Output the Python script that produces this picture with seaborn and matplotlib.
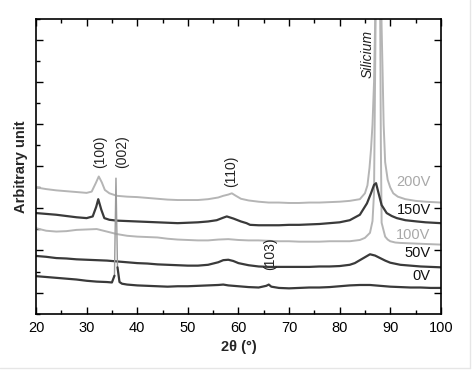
import matplotlib
matplotlib.use("Agg")
import matplotlib.pyplot as plt
from matplotlib.ticker import MultipleLocator
from matplotlib.lines import Line2D
import seaborn as sns
import pandas as pd

# ---- data (2theta in degrees, intensity in arbitrary offset units)
x_0V = [20, 22, 24, 26, 28, 30, 32, 34, 35, 35.5, 35.8, 36.1, 36.5, 37, 38, 40, 42, 44, 46, 48,
        50, 52, 54, 56, 57, 58, 60, 62, 64, 65.5, 66, 66.5, 68, 70, 72, 74, 76, 78, 80, 82, 84,
        86, 88, 90, 92, 94, 96, 98, 100]
y_0V = [1.39, 1.37, 1.35, 1.33, 1.31, 1.28, 1.26, 1.25, 1.24, 1.40, 3.72, 1.60, 1.25, 1.21,
        1.19, 1.17, 1.16, 1.15, 1.14, 1.15, 1.15, 1.16, 1.17, 1.18, 1.19, 1.17, 1.15, 1.13, 1.12,
        1.16, 1.19, 1.14, 1.11, 1.10, 1.11, 1.12, 1.12, 1.13, 1.15, 1.17, 1.18, 1.18, 1.16, 1.14,
        1.13, 1.12, 1.12, 1.11, 1.11]

x_50V = [20, 22, 24, 26, 28, 30, 32, 34, 36, 38, 40, 42, 44, 46, 48, 50, 52, 54, 56, 57, 58, 59,
         60, 62, 64, 66, 68, 70, 72, 74, 76, 78, 80, 82, 83, 84, 85, 86, 87, 88, 89, 90, 92, 94,
         96, 98, 100]
y_50V = [1.87, 1.85, 1.82, 1.81, 1.79, 1.78, 1.77, 1.76, 1.74, 1.72, 1.70, 1.69, 1.67, 1.66,
         1.65, 1.64, 1.64, 1.66, 1.72, 1.77, 1.78, 1.75, 1.70, 1.65, 1.62, 1.61, 1.61, 1.61, 1.61,
         1.61, 1.62, 1.62, 1.63, 1.66, 1.70, 1.77, 1.84, 1.91, 1.88, 1.82, 1.76, 1.71, 1.66, 1.64,
         1.62, 1.61, 1.60]

x_100V = [20, 22, 24, 26, 28, 30, 32, 34, 36, 38, 40, 42, 44, 46, 48, 50, 52, 54, 56, 58, 60,
          62, 64, 66, 68, 70, 72, 74, 76, 78, 80, 82, 84, 85, 86, 86.5, 86.8, 87.0, 87.3, 87.6,
          88.0, 88.15, 88.3, 89, 89.5, 90, 91, 92, 94, 96, 98, 100]
y_100V = [2.53, 2.47, 2.45, 2.46, 2.49, 2.50, 2.51, 2.45, 2.39, 2.35, 2.33, 2.32, 2.31, 2.28,
          2.26, 2.25, 2.24, 2.24, 2.26, 2.27, 2.25, 2.24, 2.24, 2.23, 2.22, 2.22, 2.21, 2.21,
          2.21, 2.22, 2.22, 2.22, 2.25, 2.30, 2.42, 2.70, 3.37, 6.0, 10.0, 12.0, 8.0, 4.5, 2.66,
          2.33, 2.26, 2.22, 2.19, 2.18, 2.17, 2.16, 2.15, 2.14]

x_150V = [20, 22, 24, 26, 28, 30, 31.2, 31.9, 32.3, 32.9, 33.5, 34.5, 36, 38, 40, 42, 44, 46,
          48, 50, 52, 54, 55.7, 57, 57.7, 59, 60.5, 61.6, 62.3, 64, 66, 68, 70, 72, 74, 76, 78,
          80, 82, 84, 85.4, 86.2, 86.8, 87.2, 87.7, 88.3, 89.3, 90.3, 91.3, 93, 95.3, 97, 100]
y_150V = [2.89, 2.87, 2.85, 2.82, 2.79, 2.77, 2.81, 3.04, 3.22, 2.97, 2.77, 2.73, 2.71, 2.70,
          2.69, 2.68, 2.67, 2.66, 2.65, 2.66, 2.67, 2.69, 2.72, 2.78, 2.81, 2.76, 2.69, 2.65,
          2.61, 2.60, 2.60, 2.60, 2.61, 2.61, 2.62, 2.63, 2.65, 2.67, 2.72, 2.85, 3.12, 3.36,
          3.56, 3.60, 3.36, 3.08, 2.89, 2.82, 2.77, 2.72, 2.69, 2.67, 2.65]

x_200V = [20, 22, 24, 26, 28, 30, 31, 31.8, 32.4, 33, 33.6, 34.5, 36, 38, 40, 42, 44, 46, 48,
          50, 52, 54, 56, 57, 58, 58.7, 59.5, 60.5, 62, 64, 66, 68, 70, 72, 74, 76, 78, 80, 82,
          84, 85, 85.5, 85.9, 86.2, 86.5, 86.8, 87.0, 87.3, 87.7, 88.0, 88.3, 88.5, 88.7, 89.0,
          89.5, 90, 90.6, 91.5, 93, 95, 97, 100]
y_200V = [3.50, 3.46, 3.43, 3.41, 3.39, 3.37, 3.40, 3.60, 3.76, 3.62, 3.44, 3.36, 3.30, 3.28,
          3.27, 3.25, 3.23, 3.21, 3.20, 3.20, 3.20, 3.22, 3.26, 3.30, 3.33, 3.36, 3.30, 3.23,
          3.19, 3.16, 3.14, 3.14, 3.13, 3.13, 3.14, 3.14, 3.15, 3.16, 3.18, 3.22, 3.36, 3.55,
          3.96, 4.4, 5.0, 6.0, 7.3, 10.0, 12.0, 10.0, 7.3, 6.2, 5.0, 4.1, 3.68, 3.5, 3.36, 3.28,
          3.22, 3.18, 3.16, 3.14]

series_names = ["0V", "50V", "100V", "150V", "200V"]
series_x = [x_0V, x_50V, x_100V, x_150V, x_200V]
series_y = [y_0V, y_50V, y_100V, y_150V, y_200V]
label_y = [1.39, 1.94, 2.36, 2.97, 3.64]

peak_labels = ["(100)", "(002)", "(110)", "(103)"]
peak_x = [32.6, 37.0, 58.6, 66.2]
peak_y = [3.95, 3.95, 3.52, 1.53]

dark = "#3a3a3a"
light = "#b5b5b5"
colors = {"0V": dark, "50V": dark, "100V": light, "150V": dark, "200V": light}
label_colors = {"0V": "#111111", "50V": "#111111", "100V": "#a8a8a8", "150V": "#111111", "200V": "#a8a8a8"}

frames = []
for name, xs, ys in zip(series_names, series_x, series_y):
    frames.append(pd.DataFrame({"two_theta": xs, "intensity": ys, "series": name}))
df = pd.concat(frames, ignore_index=True)

sns.set_theme(style="ticks")
plt.rcParams["font.family"] = ["Liberation Sans", "DejaVu Sans"]

fig = plt.figure(figsize=(4.74, 3.76), dpi=100)
ax = fig.add_axes([0.076, 0.166, 0.854, 0.783])

for name in ["200V", "100V", "150V", "50V", "0V"]:
    sub = df[df["series"] == name]
    if name == "0V":
        # the sharp (002) reflection appears as a thin, light trace in the reference
        narrow = (sub["two_theta"] >= 35.5) & (sub["two_theta"] <= 36.1)
        left = sub[sub["two_theta"] <= 35.5]
        right = sub[sub["two_theta"] >= 36.1]
        peak = sub[narrow]
        sns.lineplot(data=peak, x="two_theta", y="intensity", color="#9a9a9a", lw=1.0,
                     estimator=None, sort=False, ax=ax, legend=False)
        for part in (left, right):
            sns.lineplot(data=part, x="two_theta", y="intensity", color=dark, lw=1.6,
                         estimator=None, sort=False, ax=ax, legend=False)
    else:
        sns.lineplot(data=sub, x="two_theta", y="intensity", color=colors[name],
                     lw=1.6 if colors[name] == dark else 1.4, estimator=None, sort=False,
                     ax=ax, legend=False)

ax.set_xlim(20, 100)
ax.set_ylim(0.5, 7.5)
ax.xaxis.set_major_locator(MultipleLocator(10))
ax.xaxis.set_minor_locator(MultipleLocator(5))
ax.yaxis.set_major_locator(MultipleLocator(1))
ax.yaxis.set_minor_locator(MultipleLocator(0.5))
ax.tick_params(which="both", direction="in", top=True, right=True, colors="black",
               labelleft=False, labelsize=10.5, pad=5)
ax.tick_params(which="major", length=5, width=1)
ax.tick_params(which="minor", length=3, width=1)
ax.tick_params(axis="y", which="minor", right=False)
for sp in ax.spines.values():
    sp.set_linewidth(1.2)
    sp.set_color("black")

ax.set_xlabel("2\u03b8 (\u00b0)", fontsize=10.5, fontweight="bold", labelpad=4)
ax.set_ylabel("Arbitrary unit", fontsize=10.5, fontweight="bold", labelpad=6)

for name, ly in zip(series_names, label_y):
    ax.text(98.0, ly, name, ha="right", va="center", fontsize=10.5, color=label_colors[name])

for txt, px, py in zip(peak_labels, peak_x, peak_y):
    ax.text(px, py, txt, rotation=90, ha="center", va="bottom", fontsize=10, color="#222222")

ax.text(85.6, 6.09, "Silicium", rotation=90, ha="center", va="bottom", fontsize=10,
        style="italic", color="#222222")

# faint right and bottom edges of the original image
fig.add_artist(Line2D([0.992, 0.992], [0.02, 1.0], transform=fig.transFigure,
                      color="#e6e6e6", lw=1.0))
fig.add_artist(Line2D([0.0, 0.992], [0.02, 0.02], transform=fig.transFigure,
                      color="#e6e6e6", lw=1.0))

fig.savefig("out.png", dpi=100)
